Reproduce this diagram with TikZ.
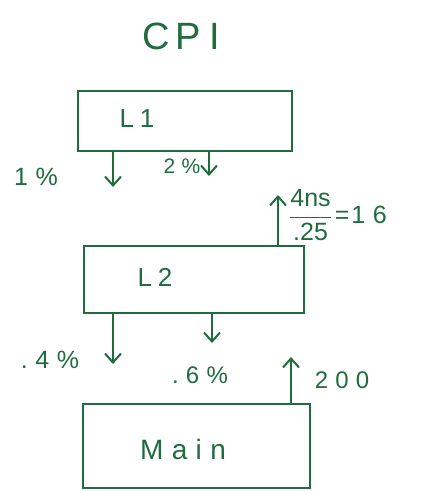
\documentclass[tikz,border=0pt]{standalone}
\usepackage{fontspec}
\setmainfont{Liberation Sans}
\usetikzlibrary{arrows.meta,calc}
\definecolor{ink}{RGB}{32,108,62}
\tikzset{
  box/.style={draw=ink, line width=2pt, minimum width=#1, inner sep=0pt},
  txt/.style={text=ink, inner sep=0pt, font=\fontsize{#1}{#1}\selectfont\addfontfeatures{LetterSpace=30}},
  arr/.style={draw=ink, line width=2pt, -{Straight Barb[length=9pt,width=16pt,line width=2pt]}},
}
\begin{document}
\begin{tikzpicture}[x=1pt,y=-1pt]
\useasboundingbox (0,0) rectangle (432,491);
% title
\node[txt=38] (title) at (181,36) {C\hspace{6pt}P\hspace{8pt}I};
% boxes
\node[box=214pt, minimum height=60pt] (l1) at (185,121) {};
\node[box=220pt, minimum height=67pt] (l2) at (194,279) {};
\node[box=227pt, minimum height=84pt] (mm) at (196,446) {};
% box labels
\node[txt=26] (l1t) at (137,119) {L\hspace{6pt}1};
\node[txt=26] (l2t) at (155,277) {L\hspace{6pt}2};
\node[txt=28] (mmt) at (183,449) {Main};
% arrow tips
\coordinate (a1) at (113,187);
\coordinate (a2) at (209,176);
\coordinate (a3) at (278,195);
\coordinate (a4) at (113,364);
\coordinate (a5) at (212,343);
\coordinate (a6) at (291,357);
% arrows
\draw[arr] (l1.south -| a1) -- (a1);
\draw[arr] (l1.south -| a2) -- (a2);
\draw[arr] (l2.north -| a3) -- (a3);
\draw[arr] (l2.south -| a4) -- (a4);
\draw[arr] (l2.south -| a5) -- (a5);
\draw[arr] (mm.north -| a6) -- (a6);
% labels
\node[txt=25] (p1) at (36,177) {1\%};
\node[txt=21] (p2) at (182,166) {2\%};
\node[txt=25] (p3) at (50,360) {.4\%};
\node[txt=24] (p4) at (200,375) {.6\%};
\node[txt=24] (p5) at (342,380) {200};
\node[txt=25, anchor=west] (fr) at (289,215) {$\displaystyle\frac{\textrm{4ns}}{\textrm{.25}}$\hspace{3pt}=\hspace{2pt}16};
\end{tikzpicture}
\end{document}
